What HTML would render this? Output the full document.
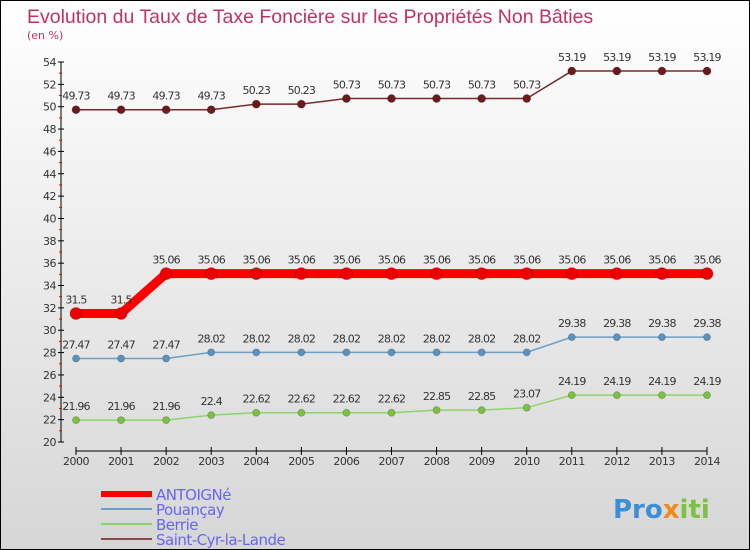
<!DOCTYPE html>
<html><head><meta charset="utf-8"><style>
body{margin:0}
#c{width:750px;height:550px;position:relative;box-sizing:border-box;border:1px solid #000;background:linear-gradient(#fff,#d6d6d6);font-family:"DejaVu Sans","Liberation Sans",sans-serif;overflow:hidden}
</style></head><body>
<div id="c">
<svg id="s" width="750" height="550" style="position:absolute;left:0;top:0">
<text x="26" y="22" font-size="19.5" fill="#c0335f" font-family="Liberation Sans, sans-serif">Evolution du Taux de Taxe Foncière sur les Propriétés Non Bâties</text>
<text x="26" y="38" font-size="11" fill="#c0335f">(en %)</text>
<g id="axes"></g><g id="series"></g><g id="legend"></g>
<text x="612" y="517" font-size="26" font-weight="bold" fill="#3a8fd8">Pro<tspan fill="#f08a1c">x</tspan><tspan fill="#7cc242">iti</tspan></text>
</svg>
</div>
<script>
const years=[2000,2001,2002,2003,2004,2005,2006,2007,2008,2009,2010,2011,2012,2013,2014];
const antoigne=[31.5,31.5,35.06,35.06,35.06,35.06,35.06,35.06,35.06,35.06,35.06,35.06,35.06,35.06,35.06];
const pouancay=[27.47,27.47,27.47,28.02,28.02,28.02,28.02,28.02,28.02,28.02,28.02,29.38,29.38,29.38,29.38];
const berrie=[21.96,21.96,21.96,22.4,22.62,22.62,22.62,22.62,22.85,22.85,23.07,24.19,24.19,24.19,24.19];
const saintcyr=[49.73,49.73,49.73,49.73,50.23,50.23,50.73,50.73,50.73,50.73,50.73,53.19,53.19,53.19,53.19];
const yTicks=[20,22,24,26,28,30,32,34,36,38,40,42,44,46,48,50,52,54];
const NS='http://www.w3.org/2000/svg';
const X=i=>75+i*(706-75)/(years.length-1);
const Y=v=>441-(v-20)*(441-61)/34;
function el(t,a,p){const e=document.createElementNS(NS,t);for(const k in a)e.setAttribute(k,a[k]);p.appendChild(e);return e;}
const ax=document.getElementById('axes');
let e=el('line',{x1:60,y1:Y(54),x2:60,y2:Y(20),stroke:'#000'},ax);


e=el('line',{x1:75,y1:450,x2:706,y2:450,stroke:'#000'},ax);


yTicks.forEach(v=>{
 el('line',{x1:57,y1:Y(v),x2:63,y2:Y(v),stroke:'#000'},ax);
 if(v<54) el('line',{x1:58,y1:Y(v+1),x2:61,y2:Y(v+1),stroke:'#e00'},ax);
 const t=el('text',{x:55,y:Y(v)+4,'font-size':11,'text-anchor':'end',fill:'#333','letter-spacing':'-0.5'},ax);
 t.textContent=v;
 
 
});
years.forEach((y,i)=>{
 el('line',{x1:X(i),y1:446,x2:X(i),y2:454,stroke:'#000'},ax);
 const t=el('text',{x:X(i),y:464,'font-size':11,'text-anchor':'middle',fill:'#333','letter-spacing':'-0.5'},ax);
 t.textContent=y;
 
 
});
const sg=document.getElementById('series');
const series=[
 {n:'saint-cyr-la-lande',d:saintcyr,c:'#7a2a2a',w:1.5,r:4,f:'#6b1a1a'},
 {n:'antoigne',d:antoigne,c:'#f00',w:9,r:6,f:'#e00'},
 {n:'pouancay',d:pouancay,c:'#6aa0c8',w:1.5,r:3.5,f:'#5a93c0'},
 {n:'berrie',d:berrie,c:'#8ed46a',w:1.5,r:3.5,f:'#7cc242'}];
series.forEach(s=>{
 const l=el('polyline',{points:s.d.map((v,i)=>X(i)+','+Y(v)).join(' '),fill:'none',stroke:s.c,'stroke-width':s.w},sg);
 
 
 s.d.forEach((v,i)=>{
  const c=el('circle',{cx:X(i),cy:Y(v),r:s.r,fill:s.f,stroke:'#0003'},sg);
  
  
  const t=el('text',{x:X(i),y:Y(v)-10,'font-size':11,'text-anchor':'middle',fill:'#333','letter-spacing':'-0.8'},sg);
  t.textContent=String(v);
  
  
 });
});
const lg=document.getElementById('legend');
[['ANTOIGNé','#f00',6],['Pouançay','#6aa0c8',2],['Berrie','#8ed46a',2],['Saint-Cyr-la-Lande','#8a4a4a',2]].forEach((L,i)=>{
 const y=493+i*15;
 const r=el('rect',{x:100,y:y-L[2]/2,width:51,height:L[2],fill:L[1]},lg);
 
 
 const t=el('text',{x:155,y:y+6,'font-size':15,fill:'#6666ee','letter-spacing':'-0.5'},lg);
 t.textContent=L[0];
 
 
});
</script>
</body></html>
